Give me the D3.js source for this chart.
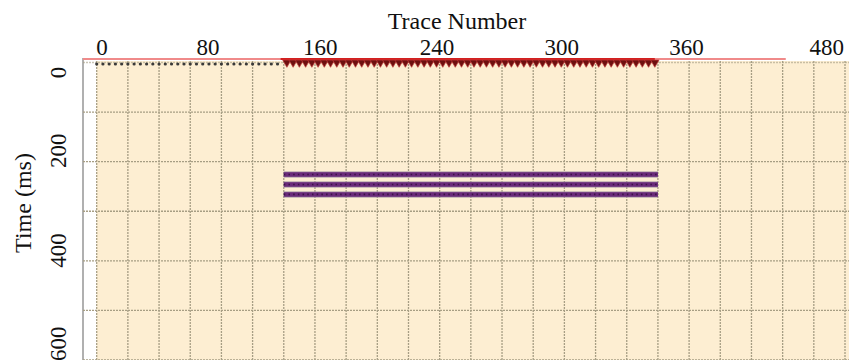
<!DOCTYPE html>
<html>
<head>
<meta charset="utf-8">
<script src="https://cdn.jsdelivr.net/npm/d3@7"></script>
<style>
  html, body { margin: 0; padding: 0; background: #ffffff; }
  svg { display: block; }
  text { font-family: "Liberation Serif", "Times New Roman", serif; fill: #111; }
</style>
</head>
<body>
<svg id="chart" width="849" height="360"></svg>
<script>
// Survey geometry: trace numbers along the top, two-way time down the side
const xTickLabels = ["0", "80", "160", "240", "300", "360", "480"];
const xTickAt     = [3, 71, 143, 218, 298, 378, 468];   // trace position of each label
const yTickLabels = ["0", "200", "400", "600"];
const yTickAt     = [19, 177, 378, 566];                 // time position of each label (ms)

// Reflector events (ms) and the trace span they cover
const reflectorTimes  = [226, 246, 266];
const reflectorTraces = [120, 360];

// Shot positions (triangles) and receiver positions (dots)
const sourceTraces = [120,124,128,132,136,140,144,148,152,156,160,164,168,172,176,180,184,188,192,196,
                      200,204,208,212,216,220,224,228,232,236,240,244,248,252,256,260,264,268,272,276,
                      280,284,288,292,296,300,304,308,312,316,320,324,328,332,336,340,344,348,352,356];
const receiverTraces = [0,4,8,12,16,20,24,28,32,36,40,44,48,52,56,60,64,68,72,76,
                        80,84,88,92,96,100,104,108,112,116];

const W = 849, H = 360;
const svg = d3.select("#chart");

const x = d3.scaleLinear().domain([0, 480]).range([96.7, 845]);
const y = d3.scaleLinear().domain([0, 600]).range([62.5, 360]);
const frameLeft = 83, frameTop = 58;

// plot background
svg.append("rect")
  .attr("x", x(0)).attr("y", 61)
  .attr("width", W - x(0)).attr("height", H - 61)
  .attr("fill", "#fdeed2");

// left frame line
svg.append("line")
  .attr("x1", frameLeft).attr("x2", frameLeft)
  .attr("y1", frameTop).attr("y2", H)
  .attr("stroke", "#b0b0b0").attr("stroke-width", 2);

// grid
const grid = svg.append("g").attr("stroke", "#a79e84").attr("stroke-width", 1.3)
  .attr("stroke-dasharray", "2 1").attr("fill", "none");
grid.selectAll("line.v").data(d3.range(0, 481, 20)).join("line")
  .attr("class", "v")
  .attr("x1", d => x(d)).attr("x2", d => x(d))
  .attr("y1", 61).attr("y2", H);
grid.selectAll("line.h").data(d3.range(0, 601, 100)).join("line")
  .attr("class", "h")
  .attr("x1", frameLeft).attr("x2", W)
  .attr("y1", d => y(d)).attr("y2", d => y(d))
  .attr("stroke-opacity", d => d === 0 ? 0.6 : 1);

// surface line along the top
svg.append("line")
  .attr("x1", frameLeft).attr("x2", x(442))
  .attr("y1", frameTop + 1).attr("y2", frameTop + 1)
  .attr("stroke", "#f08a8a").attr("stroke-width", 2);
svg.append("line")
  .attr("x1", x(reflectorTraces[0] - 2)).attr("x2", x(reflectorTraces[1] - 2))
  .attr("y1", frameTop + 1).attr("y2", frameTop + 1)
  .attr("stroke", "#d42020").attr("stroke-width", 2);

// receivers
svg.append("g").selectAll("circle").data(receiverTraces).join("circle")
  .attr("cx", d => x(d)).attr("cy", y(0) + 1.5)
  .attr("r", 1.6).attr("fill", "#3a3a3a");

// sources
const tri = d3.symbol().type(d3.symbolTriangle).size(30);
svg.append("g").selectAll("path").data(sourceTraces).join("path")
  .attr("d", tri)
  .attr("transform", d => `translate(${x(d + 2)},${frameTop + 4.5}) rotate(180)`)
  .attr("fill", "#6e1010").attr("stroke", "#c03535").attr("stroke-width", 0.7);

// reflectors
const refl = svg.append("g");
refl.selectAll("line.body").data(reflectorTimes).join("line")
  .attr("class", "body")
  .attr("x1", x(reflectorTraces[0])).attr("x2", x(reflectorTraces[1]))
  .attr("y1", d => y(d)).attr("y2", d => y(d))
  .attr("stroke", "#9b8aa0").attr("stroke-width", 6);
refl.selectAll("line.core").data(reflectorTimes).join("line")
  .attr("class", "core")
  .attr("x1", x(reflectorTraces[0])).attr("x2", x(reflectorTraces[1]))
  .attr("y1", d => y(d)).attr("y2", d => y(d))
  .attr("stroke", "#6a2a7a").attr("stroke-width", 4.5);
refl.selectAll("line.pts").data(reflectorTimes).join("line")
  .attr("class", "pts")
  .attr("x1", x(reflectorTraces[0])).attr("x2", x(reflectorTraces[1]))
  .attr("y1", d => y(d)).attr("y2", d => y(d))
  .attr("stroke", "#2e0c36").attr("stroke-width", 1.6)
  .attr("stroke-dasharray", "1.5 3.2").attr("stroke-opacity", 0.75);

// top axis: trace number
const xAxis = d3.axisTop(x)
  .tickValues(xTickAt)
  .tickFormat((d, i) => xTickLabels[i])
  .tickSize(0).tickPadding(3);
const gx = svg.append("g").attr("transform", `translate(0,${frameTop})`).call(xAxis);
gx.select(".domain").remove();
gx.selectAll("text").attr("font-size", 23).attr("font-family", "Liberation Serif").attr("fill", "#111");

svg.append("text")
  .attr("x", 457).attr("y", 29)
  .attr("text-anchor", "middle").attr("font-size", 24)
  .text("Trace Number");

// left axis: time
const yAxis = d3.axisLeft(y)
  .tickValues(yTickAt)
  .tickFormat((d, i) => yTickLabels[i])
  .tickSize(0);
const gy = svg.append("g").attr("transform", `translate(${frameLeft},0)`).call(yAxis);
gy.select(".domain").remove();
gy.selectAll("text")
  .attr("x", null).attr("y", null).attr("dy", "0.35em")
  .attr("text-anchor", "middle")
  .attr("transform", "translate(-25,0) rotate(-90)")
  .attr("font-size", 23).attr("font-family", "Liberation Serif").attr("fill", "#111");

svg.append("text")
  .attr("transform", "translate(23,203) rotate(-90)")
  .attr("dy", "0.35em")
  .attr("text-anchor", "middle").attr("font-size", 24)
  .text("Time (ms)");
</script>
</body>
</html>
